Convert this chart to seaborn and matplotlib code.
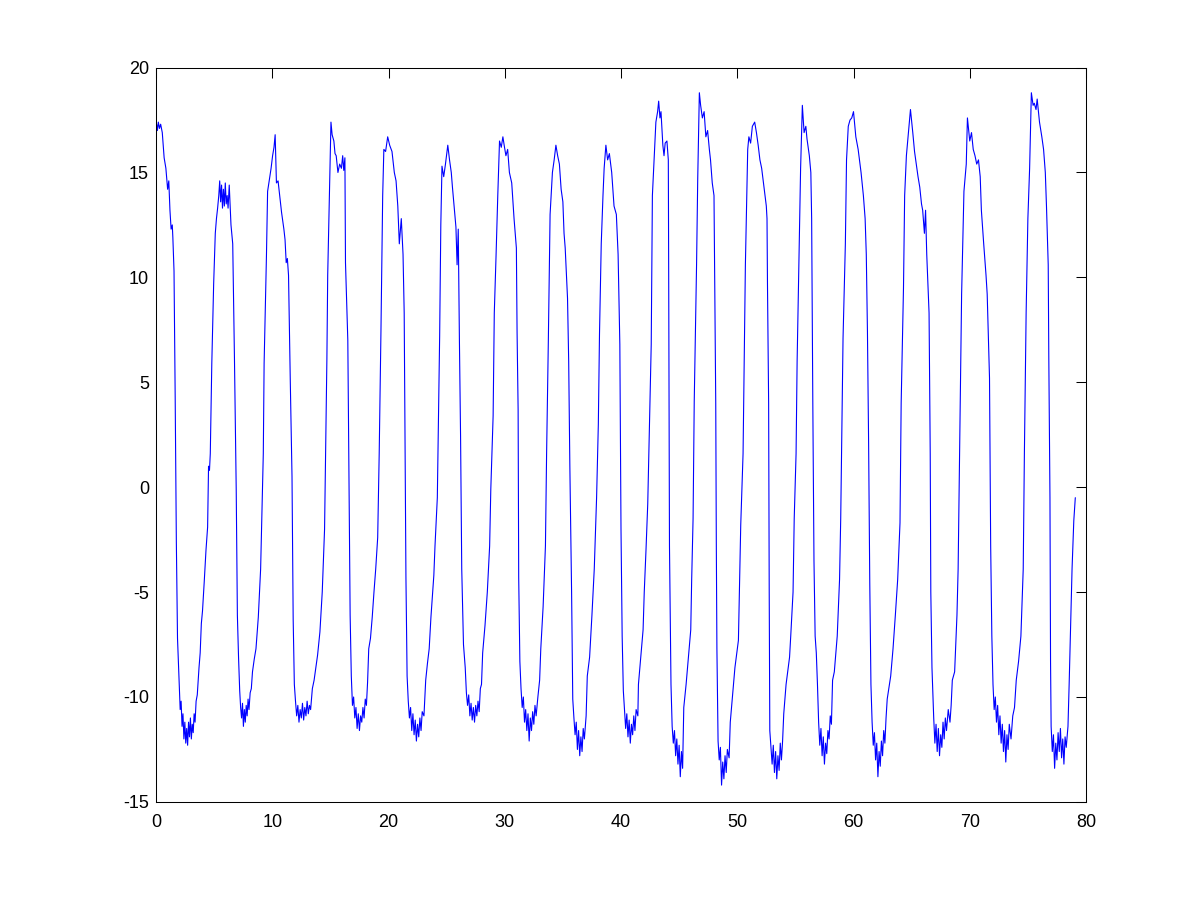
import pandas as pd
import matplotlib
matplotlib.use("Agg")
import matplotlib.pyplot as plt
import seaborn as sns

# pontos (tempo, valor), um bloco por trecho do eixo x
trecho_0_20 = [
    (0.00, 16.8), (0.05, 17.3), (0.12, 17.0), (0.20, 17.4), (0.30, 17.1), (0.40, 17.3), (0.54, 16.9),
    (0.62, 16.3), (0.70, 15.7), (0.85, 15.2), (1.00, 14.2), (1.10, 14.6), (1.20, 13.2), (1.30, 12.3),
    (1.40, 12.5), (1.45, 11.9), (1.55, 10.3), (1.65, 4.3), (1.75, -2.6), (1.85, -7.2), (2.00, -9.5),
    (2.08, -10.6), (2.16, -10.2), (2.24, -11.4), (2.32, -10.8), (2.40, -12.0), (2.48, -11.2), (2.56, -12.2),
    (2.64, -11.5), (2.72, -12.3), (2.80, -11.2), (2.88, -11.9), (2.96, -11.0), (3.04, -12.0), (3.12, -11.3),
    (3.20, -11.7), (3.28, -10.8), (3.36, -11.2), (3.45, -10.2), (3.55, -9.9), (3.70, -8.6), (3.80, -7.9),
    (3.90, -6.5), (4.00, -5.9), (4.15, -4.5), (4.30, -3.0), (4.44, -1.9), (4.52, 1.0), (4.60, 0.8),
    (4.67, 1.6), (4.80, 5.9), (4.96, 9.7), (5.10, 12.1), (5.20, 12.8), (5.30, 13.3), (5.40, 13.9),
    (5.48, 14.6), (5.56, 13.6), (5.64, 14.4), (5.72, 13.3), (5.80, 14.2), (5.88, 13.4), (5.96, 14.5),
    (6.04, 13.5), (6.12, 13.9), (6.20, 13.3), (6.30, 14.4), (6.45, 12.5), (6.60, 11.6), (6.75, 6.1),
    (6.90, -0.1), (7.00, -6.1), (7.10, -8.1), (7.20, -9.7), (7.28, -10.5), (7.36, -11.0), (7.44, -10.3),
    (7.52, -11.4), (7.60, -10.6), (7.68, -11.2), (7.76, -10.4), (7.84, -10.9), (7.92, -10.1), (8.00, -10.6),
    (8.10, -9.8), (8.20, -9.6), (8.30, -8.8), (8.45, -8.2), (8.60, -7.7), (8.80, -6.2), (9.00, -3.9),
    (9.10, -1.5), (9.23, 1.6), (9.30, 5.9), (9.40, 8.5), (9.50, 11.0), (9.60, 14.1), (9.74, 14.6),
    (9.90, 15.2), (10.03, 15.8), (10.15, 16.2), (10.25, 16.8), (10.36, 14.5), (10.50, 14.6), (10.60, 14.1),
    (10.80, 13.1), (11.00, 12.3), (11.10, 11.8), (11.20, 10.7), (11.30, 10.9), (11.40, 10.1), (11.55, 5.1),
    (11.70, 0.5), (11.80, -6.3), (11.90, -9.4), (12.00, -10.2), (12.10, -10.9), (12.20, -10.4), (12.30, -11.2),
    (12.40, -10.6), (12.50, -11.0), (12.60, -10.3), (12.70, -11.1), (12.80, -10.5), (12.90, -10.9),
    (13.00, -10.2), (13.10, -10.8), (13.20, -10.4), (13.30, -10.6), (13.45, -9.6), (13.60, -9.2),
    (13.75, -8.6), (13.90, -8.0), (14.10, -6.9), (14.30, -5.0), (14.50, -2.0), (14.60, 2.0), (14.70, 6.1),
    (14.77, 10.1), (14.90, 13.4), (15.05, 17.4), (15.15, 16.8), (15.30, 16.5), (15.40, 15.9), (15.50, 15.8),
    (15.65, 15.0), (15.80, 15.4), (15.95, 15.2), (16.06, 15.8), (16.15, 15.1), (16.25, 15.7), (16.30, 10.7),
    (16.50, 7.0), (16.60, 0.3), (16.70, -6.1), (16.80, -9.0), (16.90, -10.4), (17.00, -10.0), (17.10, -11.0),
    (17.20, -10.5), (17.30, -11.5), (17.40, -10.8), (17.50, -11.6), (17.60, -10.9), (17.70, -11.2),
    (17.80, -10.5), (17.90, -11.0), (18.00, -10.1), (18.10, -10.4), (18.20, -9.3), (18.30, -7.7),
    (18.45, -7.2), (18.60, -6.2), (18.75, -5.0), (18.90, -3.9), (19.07, -2.4), (19.20, 1.6), (19.35, 7.4),
    (19.50, 13.9), (19.60, 16.1), (19.75, 16.0), (19.93, 16.7),
]

trecho_20_40 = [
    (20.10, 16.3), (20.30, 16.0), (20.50, 15.0), (20.65, 14.6), (20.80, 13.4), (20.93, 11.6), (21.10, 12.8),
    (21.25, 11.1), (21.35, 8.3), (21.40, 4.1), (21.50, -4.3), (21.60, -9.0), (21.70, -10.2), (21.80, -11.0),
    (21.90, -10.5), (22.00, -11.6), (22.10, -10.8), (22.20, -11.8), (22.30, -11.1), (22.40, -12.1),
    (22.50, -11.3), (22.60, -11.9), (22.70, -11.0), (22.80, -11.6), (22.90, -10.7), (23.05, -10.9),
    (23.20, -9.2), (23.35, -8.4), (23.50, -7.7), (23.65, -6.2), (23.90, -4.2), (24.00, -2.8), (24.20, -0.5),
    (24.30, 3.4), (24.40, 7.2), (24.50, 12.5), (24.60, 15.3), (24.75, 14.8), (24.90, 15.4), (25.10, 16.3),
    (25.25, 15.6), (25.40, 15.0), (25.50, 14.3), (25.70, 13.0), (25.80, 12.4), (25.90, 10.6), (26.00, 12.3),
    (26.10, 7.0), (26.20, 2.4), (26.30, -3.9), (26.45, -7.5), (26.60, -8.6), (26.70, -9.8), (26.80, -10.4),
    (26.90, -9.9), (27.00, -10.9), (27.10, -10.3), (27.20, -11.1), (27.30, -10.5), (27.40, -11.2),
    (27.50, -10.4), (27.60, -10.9), (27.70, -10.2), (27.80, -10.7), (27.90, -9.6), (28.00, -9.4),
    (28.10, -7.9), (28.30, -6.6), (28.50, -5.0), (28.70, -2.8), (28.80, -0.1), (29.00, 3.4), (29.10, 8.3),
    (29.25, 11.0), (29.40, 13.9), (29.55, 16.5), (29.70, 16.2), (29.84, 16.7), (29.95, 16.3), (30.10, 15.8),
    (30.25, 16.1), (30.40, 15.0), (30.60, 14.5), (30.80, 12.8), (31.00, 11.4), (31.06, 7.4), (31.15, 3.7),
    (31.20, -4.3), (31.30, -8.3), (31.40, -9.6), (31.50, -10.5), (31.60, -10.0), (31.70, -11.2),
    (31.80, -10.6), (31.90, -11.6), (32.00, -10.8), (32.10, -12.1), (32.20, -11.0), (32.30, -11.6),
    (32.40, -10.7), (32.50, -11.3), (32.60, -10.4), (32.70, -10.9), (32.85, -10.0), (33.00, -9.2),
    (33.10, -7.7), (33.30, -5.7), (33.50, -2.8), (33.60, 1.6), (33.75, 7.0), (33.90, 13.0), (34.10, 15.0),
    (34.25, 15.6), (34.40, 16.3), (34.55, 15.8), (34.70, 15.4), (34.85, 14.2), (35.00, 13.6), (35.10, 12.1),
    (35.20, 11.4), (35.30, 10.2), (35.40, 9.0), (35.50, 6.0), (35.60, 1.0), (35.75, -5.0), (35.85, -10.1),
    (35.95, -11.0), (36.05, -11.8), (36.15, -11.2), (36.25, -12.5), (36.35, -11.6), (36.45, -12.8),
    (36.55, -11.9), (36.65, -12.6), (36.75, -11.5), (36.85, -12.0), (37.00, -10.9), (37.10, -9.0),
    (37.30, -8.1), (37.50, -6.1), (37.70, -3.9), (37.90, -0.5), (38.05, 3.0), (38.15, 7.3), (38.30, 11.6),
    (38.45, 13.9), (38.55, 15.2), (38.70, 16.3), (38.85, 15.6), (39.00, 15.9), (39.20, 15.0), (39.40, 13.4),
    (39.60, 13.0), (39.75, 11.1), (39.90, 6.8),
]

trecho_40_60 = [
    (40.00, -2.0), (40.10, -7.1), (40.20, -9.7), (40.30, -10.6), (40.40, -11.5), (40.50, -10.8),
    (40.60, -11.9), (40.70, -11.1), (40.80, -12.2), (40.90, -11.3), (41.00, -11.8), (41.10, -10.9),
    (41.20, -11.6), (41.30, -10.6), (41.45, -10.9), (41.50, -9.4), (41.70, -8.1), (41.90, -6.8),
    (42.00, -5.0), (42.15, -3.0), (42.30, -0.8), (42.45, 3.0), (42.60, 6.8), (42.70, 13.9), (42.90, 16.3),
    (43.00, 17.4), (43.15, 17.9), (43.24, 18.4), (43.35, 17.6), (43.44, 17.9), (43.60, 16.3), (43.70, 15.8),
    (43.80, 16.4), (43.95, 16.5), (44.07, 15.6), (44.10, 10.6), (44.17, -2.8), (44.30, -9.4), (44.40, -11.4),
    (44.50, -12.2), (44.60, -11.6), (44.70, -12.8), (44.80, -12.0), (44.90, -13.2), (45.00, -12.3),
    (45.10, -13.8), (45.20, -12.6), (45.30, -13.4), (45.40, -10.5), (45.60, -9.4), (45.80, -8.1),
    (46.00, -6.8), (46.08, -4.4), (46.20, -1.5), (46.30, 4.1), (46.50, 10.6), (46.60, 14.7), (46.74, 18.8),
    (46.85, 18.2), (47.00, 17.6), (47.15, 17.9), (47.30, 16.7), (47.45, 17.0), (47.60, 16.1), (47.70, 15.6),
    (47.85, 14.5), (48.00, 13.9), (48.05, 10.6), (48.15, 4.0), (48.20, -2.8), (48.25, -7.7), (48.35, -12.1),
    (48.45, -13.0), (48.55, -12.4), (48.65, -14.2), (48.75, -13.1), (48.85, -13.9), (48.95, -12.8),
    (49.05, -13.6), (49.15, -12.5), (49.30, -12.9), (49.40, -11.2), (49.60, -9.9), (49.80, -8.6),
    (50.10, -7.3), (50.20, -4.6), (50.30, -1.8), (50.50, 1.6), (50.60, 6.0), (50.70, 10.6), (50.90, 16.1),
    (51.00, 16.7), (51.15, 16.4), (51.30, 17.2), (51.50, 17.4), (51.65, 16.9), (51.80, 16.3), (51.95, 15.6),
    (52.10, 15.2), (52.30, 14.3), (52.50, 13.4), (52.56, 12.8), (52.60, 9.7), (52.70, 4.0), (52.75, -5.0),
    (52.80, -11.6), (52.90, -12.4), (53.00, -13.2), (53.10, -12.3), (53.20, -13.6), (53.30, -12.6),
    (53.40, -13.9), (53.50, -12.8), (53.60, -13.5), (53.70, -12.2), (53.80, -13.0), (53.90, -12.1),
    (54.00, -10.8), (54.20, -9.4), (54.50, -8.1), (54.60, -7.1), (54.80, -5.0), (54.90, -1.5), (55.06, 1.6),
    (55.15, 6.0), (55.30, 10.6), (55.45, 15.2), (55.60, 18.2), (55.75, 16.9), (55.90, 17.2), (56.00, 16.6),
    (56.20, 15.8), (56.33, 15.0), (56.40, 12.8), (56.50, 4.0), (56.60, -3.5), (56.70, -7.1), (56.80, -7.9),
    (56.90, -9.4), (57.00, -11.2), (57.10, -12.3), (57.20, -11.5), (57.30, -12.8), (57.40, -11.9),
    (57.50, -13.2), (57.60, -12.2), (57.70, -12.7), (57.80, -11.6), (57.90, -12.0), (58.00, -10.9),
    (58.10, -11.3), (58.20, -9.2), (58.35, -8.8), (58.60, -7.1), (58.80, -4.4), (58.90, -1.5), (59.00, 2.7),
    (59.10, 7.1), (59.30, 11.6), (59.40, 15.6), (59.55, 17.2), (59.70, 17.5), (59.85, 17.6),
]

trecho_60_80 = [
    (60.00, 17.9), (60.20, 16.7), (60.40, 16.1), (60.65, 15.0), (60.85, 13.9), (61.00, 12.8), (61.10, 11.1),
    (61.20, 7.4), (61.30, 2.1), (61.40, -4.6), (61.50, -9.4), (61.60, -11.2), (61.70, -12.3), (61.80, -11.7),
    (61.90, -13.0), (62.00, -12.2), (62.10, -13.8), (62.20, -12.6), (62.30, -13.3), (62.40, -12.1),
    (62.50, -12.8), (62.60, -11.6), (62.70, -12.2), (62.80, -11.0), (62.90, -10.1), (63.20, -9.0),
    (63.40, -7.7), (63.60, -6.1), (63.80, -4.4), (64.00, -1.7), (64.10, 4.0), (64.30, 9.5), (64.40, 13.9),
    (64.55, 15.8), (64.66, 16.5), (64.80, 17.4), (64.90, 18.0), (65.10, 16.9), (65.25, 16.0), (65.40, 15.4),
    (65.55, 14.8), (65.70, 14.3), (65.85, 13.5), (65.95, 13.2), (66.10, 12.1), (66.20, 13.2), (66.30, 11.1),
    (66.50, 8.3), (66.60, 1.6), (66.65, -5.0), (66.75, -8.6), (66.90, -11.0), (67.00, -12.2), (67.10, -11.3),
    (67.20, -12.6), (67.30, -11.5), (67.40, -12.8), (67.50, -11.8), (67.60, -12.4), (67.70, -11.2),
    (67.80, -12.0), (67.90, -11.0), (68.00, -11.6), (68.15, -10.6), (68.30, -11.2), (68.40, -10.4),
    (68.50, -9.2), (68.70, -8.8), (68.90, -6.1), (69.00, -3.9), (69.10, 0.4), (69.20, 4.8), (69.30, 9.2),
    (69.50, 14.1), (69.70, 15.4), (69.80, 17.6), (70.00, 16.5), (70.15, 16.9), (70.30, 16.1), (70.45, 15.8),
    (70.60, 15.4), (70.75, 15.6), (70.90, 14.8), (71.00, 13.2), (71.20, 11.6), (71.40, 10.1), (71.50, 9.2),
    (71.70, 5.2), (71.80, -2.8), (71.90, -7.1), (72.00, -9.4), (72.10, -10.6), (72.20, -10.0), (72.30, -11.2),
    (72.40, -10.4), (72.50, -11.8), (72.60, -10.9), (72.70, -12.2), (72.80, -11.3), (72.90, -12.6),
    (73.00, -11.6), (73.10, -13.1), (73.20, -11.8), (73.30, -12.5), (73.40, -11.3), (73.55, -12.0),
    (73.70, -10.9), (73.85, -10.5), (74.00, -9.2), (74.20, -8.3), (74.40, -7.1), (74.60, -3.9), (74.70, 1.6),
    (74.85, 8.3), (75.00, 12.8), (75.15, 15.2), (75.30, 18.8), (75.45, 18.2), (75.55, 18.3), (75.70, 18.0),
    (75.80, 18.5), (76.00, 17.4), (76.20, 16.7), (76.35, 16.1), (76.50, 15.0), (76.60, 13.4), (76.75, 10.6),
    (76.80, 6.2), (76.90, -0.5), (76.95, -8.3), (77.00, -11.4), (77.10, -12.6), (77.20, -11.8), (77.30, -13.4),
    (77.40, -12.2), (77.50, -13.0), (77.60, -11.7), (77.70, -12.6), (77.80, -11.5), (77.90, -12.9),
    (78.00, -12.0), (78.10, -13.2), (78.20, -11.9), (78.30, -12.4), (78.45, -11.4), (78.55, -9.4),
    (78.70, -6.1), (78.80, -3.9), (78.95, -1.6), (79.08, -0.5),
]

ticks_x = [0, 10, 20, 30, 40, 50, 60, 70, 80]
ticks_y = [-15, -10, -5, 0, 5, 10, 15, 20]

dados = pd.DataFrame(trecho_0_20 + trecho_20_40 + trecho_40_60 + trecho_60_80, columns=["t", "valor"])

sns.set_style("white")
plt.rcParams["font.family"] = ["Liberation Sans", "DejaVu Sans"]
plt.rcParams["axes.unicode_minus"] = False  # o original usa hifen simples

fig = plt.figure(figsize=(12, 9.01), dpi=100)
ax = fig.add_axes([0.13, 0.11, 0.775, 0.815])

sns.lineplot(data=dados, x="t", y="valor", sort=False, estimator=None,
             color="#0000ff", linewidth=0.8, ax=ax)

ax.set_xlim(0, 80)
ax.set_ylim(-15, 20)
ax.set_xticks(ticks_x)
ax.set_yticks(ticks_y)
ax.set_xlabel("")
ax.set_ylabel("")

''' estilo tipo matlab: caixa fechada, ticks para dentro '''
for lado in ax.spines.values():
    lado.set_visible(True)
    lado.set_color("black")
    lado.set_linewidth(0.75)
ax.tick_params(direction="in", length=7, width=0.75, color="black",
               top=True, right=True, labelsize=13, labelcolor="black")
ax.tick_params(axis="x", pad=9)
ax.tick_params(axis="y", pad=5)

fig.savefig("out.png", dpi=100)
